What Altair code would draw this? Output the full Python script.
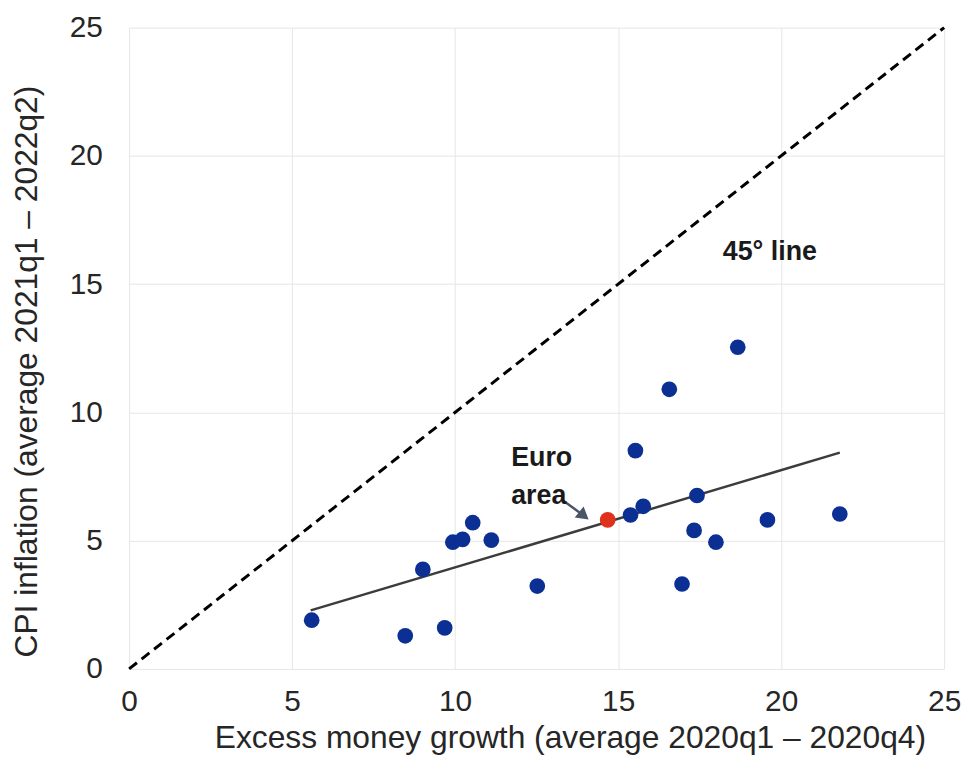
import altair as alt
import pandas as pd

# Country observations (excess money growth, CPI inflation)
money_growth = [5.60, 8.47, 9.68, 9.01, 9.93, 10.23, 10.54, 11.11, 12.52, 15.38, 15.77,
                15.53, 16.57, 18.67, 17.42, 17.33, 18.00, 16.96, 19.58, 21.80]
inflation = [1.90, 1.29, 1.60, 3.88, 4.94, 5.05, 5.70, 5.02, 3.23, 6.00, 6.34,
             8.51, 10.90, 12.54, 6.76, 5.40, 4.94, 3.31, 5.81, 6.04]

# Euro area
euro_x = [14.68]
euro_y = [5.81]

# Fitted line end points
fit_x = [5.57, 21.80]
fit_y = [2.28, 8.43]

# 45 degree line
diag = [0, 25]

# Annotations
ann_text = ["45° line", "Euro", "area"]
ann_x = [18.21, 11.72, 11.72]
ann_y = [16.27, 8.21, 6.72]

arrow_x = [13.31, 13.95]
arrow_y = [6.57, 5.97]
head_x = [13.95]
head_y = [5.97]

ticks = [0, 5, 10, 15, 20, 25]

FONT = "Liberation Sans"
TXT = "#262626"

xs = alt.Scale(domain=[0, 25], nice=False, zero=False)
ys = alt.Scale(domain=[0, 25], nice=False, zero=False)

pts = pd.DataFrame({"x": money_growth, "y": inflation})
ea = pd.DataFrame({"x": euro_x, "y": euro_y})
fit = pd.DataFrame({"x": fit_x, "y": fit_y})
dg = pd.DataFrame({"x": diag, "y": diag})
ann = pd.DataFrame({"t": ann_text, "x": ann_x, "y": ann_y})
arr = pd.DataFrame({"x": arrow_x, "y": arrow_y})
head = pd.DataFrame({"x": head_x, "y": head_y})

xaxis = alt.Axis(values=ticks, title="Excess money growth (average 2020q1 – 2020q4)",
                 grid=True, domain=False, ticks=False, tickSize=0, labelFlush=False,
                 labelFontSize=30, labelFont=FONT, labelColor=TXT, labelPadding=18,
                 titleFontSize=32, titleFont=FONT, titleFontWeight="normal", titleColor=TXT,
                 titleX=444, titleY=54, titleBaseline="top", titleAlign="center")
yaxis = alt.Axis(values=ticks, title="CPI inflation (average 2021q1 – 2022q2)",
                 grid=True, domain=False, ticks=False, tickSize=0, labelFlush=False,
                 labelFontSize=30, labelFont=FONT, labelColor=TXT, labelPadding=27,
                 titleFontSize=32, titleFont=FONT, titleFontWeight="normal", titleColor=TXT,
                 titleX=-86, titleY=346, titleBaseline="bottom", titleAlign="center",
                 titleAngle=270)

base_x = alt.X("x:Q", scale=xs, axis=xaxis)
base_y = alt.Y("y:Q", scale=ys, axis=yaxis)

diag_line = alt.Chart(dg).mark_line(color="black", strokeWidth=3, strokeDash=[10, 6]).encode(
    x=base_x, y=base_y)

fit_line = alt.Chart(fit).mark_line(color="#3c3c3c", strokeWidth=2.5).encode(
    x="x:Q", y="y:Q")

arrow_line = alt.Chart(arr).mark_line(color="#4a5568", strokeWidth=2.5).encode(
    x="x:Q", y="y:Q")
arrow_head = alt.Chart(head).mark_point(shape="triangle-right", filled=True, size=200,
                                        color="#4a5568", opacity=1, angle=39).encode(
    x="x:Q", y="y:Q")

dots = alt.Chart(pts).mark_circle(size=250, color="#0c2f94", opacity=1).encode(
    x="x:Q", y="y:Q")
euro = alt.Chart(ea).mark_circle(size=250, color="#e0301e", opacity=1).encode(
    x="x:Q", y="y:Q")

labels = alt.Chart(ann).mark_text(align="left", baseline="middle", font=FONT,
                                  fontWeight="bold", fontSize=27, color="#1a1a1a").encode(
    x="x:Q", y="y:Q", text="t:N")

chart = alt.layer(diag_line, fit_line, arrow_line, arrow_head, dots, euro, labels).properties(
    width=821, height=646,
    autosize=alt.AutoSizeParams(type="none"),
    padding={"left": 122, "top": 17, "right": 18, "bottom": 90},
).configure_view(stroke=None).configure_axis(gridColor="#e6e6e6", gridWidth=1)

chart.save("out.html", embed_options={"renderer": "svg", "actions": False})
